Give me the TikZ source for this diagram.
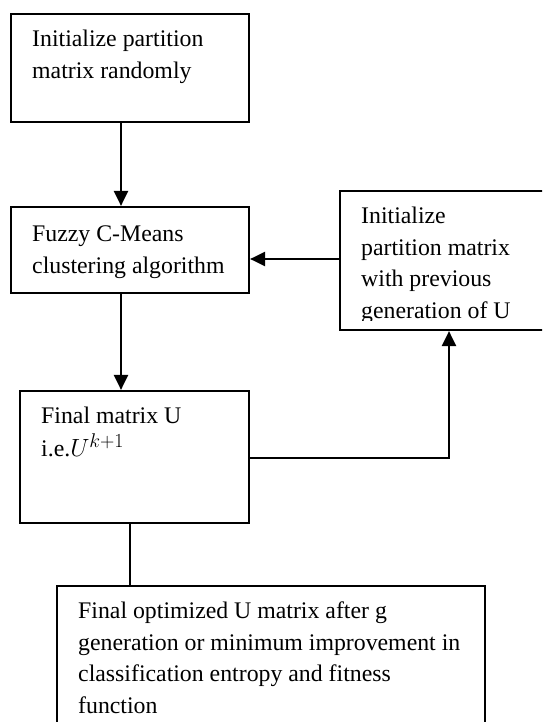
\documentclass[tikz,border=0pt]{standalone}
\usepackage{fontspec}
\setmainfont{Liberation Serif}
\usetikzlibrary{arrows.meta}
\begin{document}
\begin{tikzpicture}[x=1pt,y=-1pt,
  box/.style={draw, line width=2.2pt, rectangle, inner sep=0pt},
  txt/.style={anchor=north west, inner sep=0pt, align=left, font=\fontsize{23.8}{31.7}\selectfont},
  arr/.style={line width=2.2pt, -{Triangle[length=15pt,width=14pt]}},
  ln/.style={line width=2.2pt}]
\useasboundingbox (0,0) rectangle (542,722);
\clip (0,0) rectangle (542,722);
% boxes
\node[box, minimum width=238pt, minimum height=108pt] (b1) at (130,68) {};
\node[box, minimum width=238pt, minimum height=86pt] (b2) at (130,250) {};
\node[box, minimum width=229pt, minimum height=132pt] (b3) at (134.5,457) {};
\node[box, minimum width=220pt, minimum height=139pt] (rb) at (450,260.5) {};
\node[box, minimum width=428pt, minimum height=154pt] (bb) at (271,663) {};
% texts
\node[txt] (t1) at (32,24) {\strut Initialize partition\\matrix randomly};
\node[txt] (t2) at (32,219) {\strut Fuzzy C-Means\\clustering algorithm};
\node[txt] (t3) at (41,401) {\strut Final matrix U\\i.e.$U^{\scalebox{1.15}{$\scriptstyle k+1$}}$};
\begin{scope}
\clip (340,191) rectangle (560,320);
\node[txt] (t4) at (361,201) {\strut Initialize\\partition matrix\\with previous\\generation of U};
\end{scope}
\node[txt] (t5) at (78,596) {\strut Final optimized U matrix after g\\generation or minimum improvement in\\classification entropy and fitness\\function};
% helper coordinates
\coordinate (xa) at (121,0);
\coordinate (xb) at (130,0);
\coordinate (xr) at (449,0);
\coordinate (ya) at (0,259);
\coordinate (yb) at (0,458);
% connectors
\draw[arr] (b1.south -| xa) -- (b2.north -| xa);
\draw[arr] (b2.south -| xa) -- (b3.north -| xa);
\draw[arr] (rb.west |- ya) -- (b2.east |- ya);
\draw[arr] (b3.east |- yb) -| (rb.south -| xr);
\draw[ln] (b3.south -| xb) -- (bb.north -| xb);
\end{tikzpicture}
\end{document}
